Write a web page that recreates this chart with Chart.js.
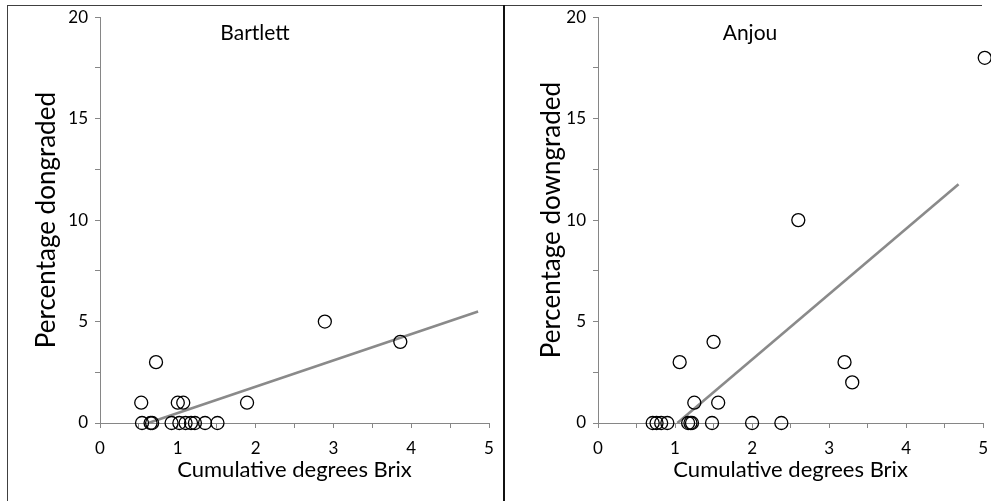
<!DOCTYPE html>
<html>
<head>
<meta charset="utf-8">
<script src="https://cdn.jsdelivr.net/npm/chart.js@4"></script>
<style>
  html, body { margin: 0; padding: 0; background: #fff; }
  body { width: 991px; height: 501px; position: relative; overflow: hidden; }
  .pane { position: absolute; top: 0; height: 501px; }
  #paneLeft { left: 0; width: 503px; }
  #paneRight { left: 505px; width: 486px; }
  .line { position: absolute; background: #404040; }
</style>
</head>
<body>
<div class="line" style="left:7px; top:5px; width:975px; height:1px;"></div>
<div class="line" style="left:7px; top:5px; width:1px; height:496px;"></div>
<div class="line" style="left:503px; top:5px; width:2px; height:496px; background:#111;"></div>
<div class="pane" id="paneLeft"><canvas id="chartLeft" width="503" height="501"></canvas></div>
<div class="pane" id="paneRight"><canvas id="chartRight" width="486" height="501"></canvas></div>
<script>
// --- dados ---
const bartlettX = [0.54, 0.65, 0.67, 0.92, 1.02, 1.10, 1.17, 1.22, 1.35, 1.51, 0.53, 1.00, 1.07, 1.89, 0.72, 2.89, 3.86];
const bartlettY = [0, 0, 0, 0, 0, 0, 0, 0, 0, 0, 1, 1, 1, 1, 3, 5, 4];
const bartlettTrendX = [0.62, 4.86];
const bartlettTrendY = [0, 5.5];

const anjouX = [0.71, 0.76, 0.82, 0.90, 1.17, 1.20, 1.22, 1.48, 2.00, 2.38, 1.25, 1.56, 1.06, 1.50, 2.60, 3.20, 3.30, 5.02];
const anjouY = [0, 0, 0, 0, 0, 0, 0, 0, 0, 0, 1, 1, 3, 4, 10, 3, 2, 18];
const anjouTrendX = [1.03, 4.68];
const anjouTrendY = [0, 11.77];

const xTicks = [0, 1, 2, 3, 4, 5];
const yTicks = [0, 5, 10, 15, 20];

const FONT = 'Lato, "Open Sans", sans-serif';
const AXIS_GREY = '#868686';

function pares(xs, ys) {
    return xs.map((x, i) => ({ x: x, y: ys[i] }));
}

// desenha o nome da variedade dentro da área do gráfico
const tituloInterno = {
    id: 'tituloInterno',
    afterDatasetsDraw(chart, args, opts) {
        const ctx = chart.ctx;
        ctx.save();
        ctx.font = '21px ' + FONT;
        ctx.fillStyle = '#000';
        ctx.textAlign = 'center';
        ctx.textBaseline = 'middle';
        ctx.fillText(opts.text, chart.chartArea.left + opts.dx, chart.chartArea.top + 16);
        ctx.restore();
    }
};

function criarGrafico(canvasId, nome, xs, ys, tx, ty, yTitulo, areaLeft, padRight) {
    const ctx = document.getElementById(canvasId).getContext('2d');
    return new Chart(ctx, {
        type: 'scatter',
        data: {
            datasets: [{
                data: pares(xs, ys),
                pointStyle: 'circle',
                pointRadius: 6.5,
                pointBorderWidth: 1.3,
                pointBorderColor: '#000',
                pointBackgroundColor: 'rgba(0,0,0,0)',
                clip: false,
                order: 1
            }, {
                type: 'line',
                data: pares(tx, ty),
                borderColor: '#8a8a8a',
                borderWidth: 2.6,
                pointRadius: 0,
                fill: false,
                clip: false,
                order: 2
            }]
        },
        options: {
            responsive: false,
            animation: false,
            layout: { padding: { left: 0, top: 17, right: padRight, bottom: 0 } },
            plugins: {
                legend: { display: false },
                tooltip: { enabled: false },
                tituloInterno: { text: nome.text, dx: nome.dx }
            },
            scales: {
                x: {
                    type: 'linear',
                    min: 0, max: 5,
                    border: { display: true, color: AXIS_GREY, width: 1 },
                    grid: { display: true, drawOnChartArea: false, drawTicks: true, tickLength: 5, color: AXIS_GREY },
                    ticks: {
                        stepSize: 0.5,
                        autoSkip: false,
                        maxRotation: 0,
                        padding: 10,
                        color: '#000',
                        font: { family: FONT, size: 17 },
                        callback: v => xTicks.includes(v) ? String(v) : ''
                    },
                    title: {
                        display: true,
                        text: 'Cumulative degrees Brix',
                        color: '#000',
                        font: { family: FONT, size: 22 },
                        padding: { top: 4, bottom: 18 }
                    },
                    afterFit(s) { s.height = 78; s.paddingLeft = 0; s.paddingRight = 0; }
                },
                y: {
                    type: 'linear',
                    min: 0, max: 20,
                    border: { display: true, color: AXIS_GREY, width: 1 },
                    grid: { display: true, drawOnChartArea: false, drawTicks: true, tickLength: 5, color: AXIS_GREY },
                    ticks: {
                        stepSize: 2.5,
                        autoSkip: false,
                        padding: 7,
                        color: '#000',
                        font: { family: FONT, size: 17 },
                        callback: v => yTicks.includes(v) ? String(v) : ''
                    },
                    title: {
                        display: true,
                        text: yTitulo,
                        color: '#000',
                        font: { family: FONT, size: 26 },
                        padding: { top: 31, bottom: 8 }
                    },
                    afterFit(s) { s.width = areaLeft; }
                }
            }
        },
        plugins: [tituloInterno]
    });
}

criarGrafico('chartLeft', { text: 'Bartlett', dx: 155 }, bartlettX, bartlettY,
    bartlettTrendX, bartlettTrendY, 'Percentage dongraded', 100, 14);
criarGrafico('chartRight', { text: 'Anjou', dx: 152 }, anjouX, anjouY,
    anjouTrendX, anjouTrendY, 'Percentage downgraded', 93, 0);
</script>
</body>
</html>
